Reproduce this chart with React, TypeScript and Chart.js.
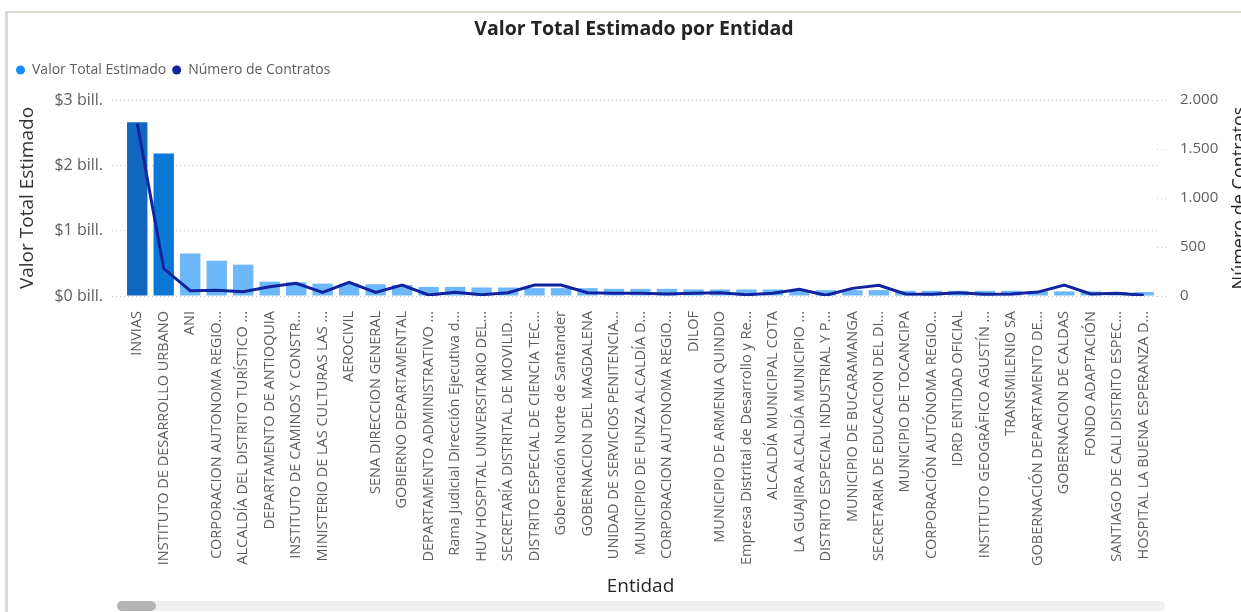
import React, { useEffect, useRef } from "react";
import { Chart, registerables, layouts } from "chart.js";

Chart.register(...registerables);

const entidades: string[] = [
  "INVIAS",
  "INSTITUTO DE DESARROLLO URBANO",
  "ANI",
  "CORPORACION AUTONOMA REGIO...",
  "ALCALDÍA DEL DISTRITO TURÍSTICO ...",
  "DEPARTAMENTO DE ANTIOQUIA",
  "INSTITUTO DE CAMINOS Y CONSTR...",
  "MINISTERIO DE LAS CULTURAS LAS ...",
  "AEROCIVIL",
  "SENA DIRECCION GENERAL",
  "GOBIERNO DEPARTAMENTAL",
  "DEPARTAMENTO ADMINISTRATIVO ...",
  "Rama Judicial Dirección Ejecutiva d...",
  "HUV HOSPITAL UNIVERSITARIO DEL...",
  "SECRETARÍA DISTRITAL DE MOVILID...",
  "DISTRITO ESPECIAL DE CIENCIA TEC...",
  "Gobernación Norte de Santander",
  "GOBERNACION DEL MAGDALENA",
  "UNIDAD DE SERVICIOS PENITENCIA...",
  "MUNICIPIO DE FUNZA ALCALDÍA D...",
  "CORPORACION AUTONOMA REGIO...",
  "DILOF",
  "MUNICIPIO DE ARMENIA QUINDIO",
  "Empresa Distrital de Desarrollo y Re...",
  "ALCALDÍA MUNICIPAL COTA",
  "LA GUAJIRA ALCALDÍA MUNICIPIO ...",
  "DISTRITO ESPECIAL INDUSTRIAL Y P...",
  "MUNICIPIO DE BUCARAMANGA",
  "SECRETARIA DE EDUCACION DEL DI...",
  "MUNICIPIO DE TOCANCIPA",
  "CORPORACIÓN AUTÓNOMA REGIO...",
  "IDRD ENTIDAD OFICIAL",
  "INSTITUTO GEOGRÁFICO AGUSTÍN ...",
  "TRANSMILENIO SA",
  "GOBERNACIÓN DEPARTAMENTO DE...",
  "GOBERNACION DE CALDAS",
  "FONDO ADAPTACIÓN",
  "SANTIAGO DE CALI DISTRITO ESPEC...",
  "HOSPITAL LA BUENA ESPERANZA D...",
];

// Valor Total Estimado, in "bill." (billones de pesos)
const valorTotal: number[] = [
  2.66, 2.18, 0.65, 0.54, 0.48, 0.22, 0.21, 0.19, 0.19, 0.18,
  0.17, 0.14, 0.14, 0.13, 0.13, 0.12, 0.12, 0.12, 0.11, 0.11,
  0.11, 0.10, 0.10, 0.10, 0.10, 0.09, 0.09, 0.09, 0.09, 0.08,
  0.08, 0.08, 0.08, 0.08, 0.07, 0.07, 0.07, 0.06, 0.06,
];

const numeroContratos: number[] = [
  1760, 280, 54, 58, 44, 94, 129, 37, 139, 37,
  112, 10, 37, 13, 33, 112, 112, 33, 27, 27,
  20, 27, 33, 13, 27, 68, 7, 78, 109, 20,
  17, 33, 17, 20, 40, 112, 20, 27, 7,
];

const leftTicks: number[] = [0, 1, 2, 3];
const rightTicks: number[] = [0, 500, 1000, 1500, 2000];

const chartTitle = "Valor Total Estimado por Entidad";
const seriesNames: string[] = ["Valor Total Estimado", "Número de Contratos"];
const xTitle = "Entidad";
const yTitle = "Valor Total Estimado";
const y1Title = "Número de Contratos";

const FONT = "'Segoe UI', 'Open Sans', sans-serif";
const TEXT_DARK = "#252423";
const TEXT_GRAY = "#605E5C";
const GRID = "#c8c8c8";

const fmtThousands = (v: number) =>
  String(v).replace(/\B(?=(\d{3})+(?!\d))/g, ".");

const barColor = (v: number, max: number) => {
  const t = v / max;
  if (t > 0.9) return "#1167BE";
  if (t > 0.6) return "#0B78D6";
  return "#6CB8FA";
};

const extraText = {
  id: "extraText",
  afterDraw(chart: any) {
    const ctx = chart.ctx as CanvasRenderingContext2D;
    const ca = chart.chartArea;
    ctx.save();
    ctx.fillStyle = TEXT_DARK;
    ctx.textAlign = "center";
    ctx.textBaseline = "middle";
    ctx.font = `bold 19.5px ${FONT}`;
    ctx.fillText(chartTitle, 634, 29);
    ctx.font = `18px ${FONT}`;
    ctx.translate(1240, (ca.top + ca.bottom) / 2);
    ctx.rotate(-Math.PI / 2);
    ctx.fillText(y1Title, 0, 0);
    ctx.restore();
  },
};

// empty layout box that keeps a gap between the legend and the plot
const legendGap = {
  id: "legendGap",
  beforeInit(chart: any) {
    const box: any = {
      position: "top",
      weight: 500,
      fullSize: true,
      options: {},
      top: 0,
      left: 0,
      right: 0,
      bottom: 0,
      width: 0,
      height: 0,
      update(maxWidth: number) {
        this.width = maxWidth;
        this.height = 13;
      },
      isHorizontal() {
        return true;
      },
      getPadding() {
        return { top: 0, left: 0, right: 0, bottom: 0 };
      },
      draw() {},
    };
    layouts.addBox(chart, box);
  },
};

export default function App() {
  const ref = useRef<HTMLCanvasElement | null>(null);

  useEffect(() => {
    if (!ref.current) return;
    const maxV = Math.max(...valorTotal);
    const chart = new Chart(ref.current, {
      type: "bar",
      data: {
        labels: entidades,
        datasets: [
          {
            type: "bar",
            label: seriesNames[0],
            data: valorTotal,
            backgroundColor: valorTotal.map((v) => barColor(v, maxV)),
            yAxisID: "y",
            order: 2,
            categoryPercentage: 1,
            barPercentage: 0.77,
          },
          {
            type: "line",
            label: seriesNames[1],
            data: numeroContratos,
            borderColor: "#12239E",
            backgroundColor: "#12239E",
            borderWidth: 3,
            pointRadius: 0,
            tension: 0,
            yAxisID: "y1",
            order: 1,
          },
        ],
      },
      options: {
        responsive: false,
        animation: false,
        layout: { padding: { top: 57, left: 10, right: 0, bottom: 14 } },
        plugins: {
          title: { display: false },
          tooltip: { enabled: false },
          legend: {
            display: true,
            position: "top",
            align: "start",
            labels: {
              usePointStyle: true,
              pointStyle: "circle",
              pointStyleWidth: 9,
              boxHeight: 6.4,
              padding: 6,
              color: TEXT_GRAY,
              font: { family: FONT, size: 14 },
              sort: (a: any, b: any) => a.datasetIndex - b.datasetIndex,
              generateLabels: (ch: any) => {
                const items = Chart.defaults.plugins.legend.labels.generateLabels(ch);
                const cols = ["#118DFF", "#12239E"];
                return items.map((it: any) => ({
                  ...it,
                  fillStyle: cols[it.datasetIndex],
                  strokeStyle: cols[it.datasetIndex],
                  lineWidth: 0,
                }));
              },
            },
          },
        },
        scales: {
          x: {
            type: "category",
            offset: true,
            grid: { display: false },
            border: { display: false },
            ticks: {
              autoSkip: false,
              minRotation: 90,
              maxRotation: 90,
              padding: 7,
              color: TEXT_GRAY,
              font: { family: FONT, size: 14.5 },
            },
            title: {
              display: true,
              text: xTitle,
              color: TEXT_DARK,
              font: { family: FONT, size: 19 },
              padding: { top: 0, bottom: 0 },
            },
            afterFit: (s: any) => {
              s.height = 302;
            },
          },
          y: {
            type: "linear",
            position: "left",
            min: leftTicks[0],
            max: leftTicks[leftTicks.length - 1],
            afterBuildTicks: (s: any) => {
              s.ticks = leftTicks.map((v) => ({ value: v }));
            },
            grid: {
              color: GRID,
              drawTicks: true,
              tickLength: 12,
              tickColor: GRID,
              tickBorderDash: [1, 3],
            },
            border: { display: false, dash: [1, 3] },
            ticks: {
              padding: 9,
              color: TEXT_GRAY,
              font: { family: FONT, size: 16 },
              callback: (v: any) => `$${v} bill.`,
            },
            title: {
              display: true,
              text: yTitle,
              color: "#333333",
              font: { family: FONT, size: 19 },
              padding: { top: 6, bottom: 0 },
            },
            afterFit: (s: any) => {
              s.width = 114;
            },
          },
          y1: {
            type: "linear",
            position: "right",
            min: rightTicks[0],
            max: rightTicks[rightTicks.length - 1],
            afterBuildTicks: (s: any) => {
              s.ticks = rightTicks.map((v) => ({ value: v }));
            },
            grid: {
              drawOnChartArea: false,
              drawTicks: true,
              tickLength: 12,
              tickColor: GRID,
              tickBorderDash: [1, 3],
            },
            border: { display: false },
            ticks: {
              padding: 11,
              color: TEXT_GRAY,
              font: { family: FONT, size: 15 },
              callback: (v: any) => fmtThousands(Number(v)),
            },
            title: { display: false },
            afterFit: (s: any) => {
              s.width = 84;
            },
          },
        },
      },
      plugins: [legendGap, extraText],
    } as any);
    return () => chart.destroy();
  }, []);

  return (
    <div
      style={{
        position: "fixed",
        left: 0,
        top: 0,
        width: 1241,
        height: 612,
        overflow: "hidden",
        background: "#ffffff",
      }}
    >
      <canvas
        ref={ref}
        width={1241}
        height={612}
        style={{ position: "absolute", left: 0, top: 0, width: 1241, height: 612 }}
      />
      <div
        style={{
          position: "absolute",
          left: 5,
          top: 11,
          width: 1300,
          height: 700,
          borderTop: "2px solid #dcdad2",
          borderLeft: "3px solid #dcdad2",
          pointerEvents: "none",
        }}
      />
      <div
        style={{
          position: "absolute",
          left: 117,
          top: 601,
          width: 1048,
          height: 10,
          background: "#efefef",
          borderRadius: 5,
        }}
      />
      <div
        style={{
          position: "absolute",
          left: 117,
          top: 601,
          width: 39,
          height: 10,
          background: "#b3b3b3",
          borderRadius: 5,
        }}
      />
    </div>
  );
}
